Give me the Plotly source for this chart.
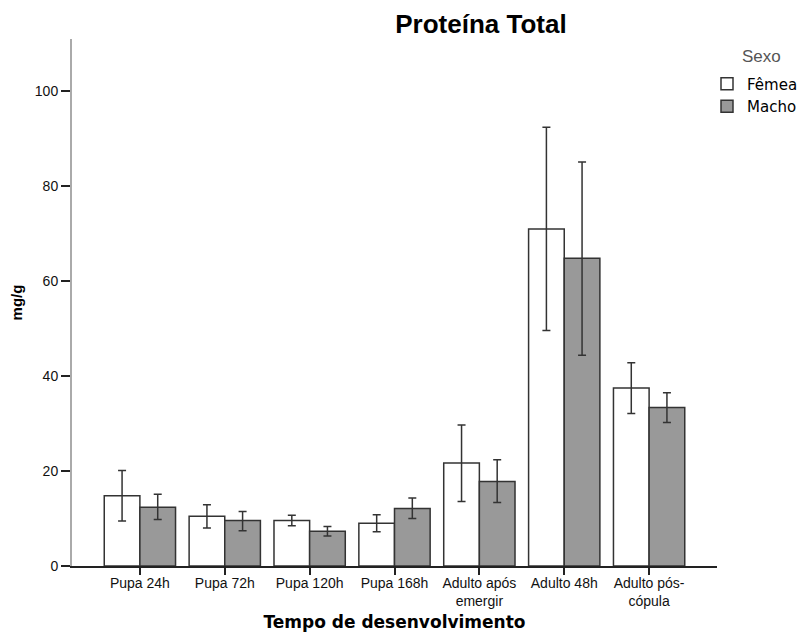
import plotly.graph_objects as go

categories = ["Pupa 24h", "Pupa 72h", "Pupa 120h", "Pupa 168h",
              "Adulto após<br>emergir", "Adulto 48h", "Adulto pós-<br>cópula"]
femea = [14.8, 10.5, 9.6, 9.0, 21.7, 71.0, 37.5]
femea_hi = [20.1, 12.9, 10.7, 10.8, 29.7, 92.4, 42.8]
femea_lo = [9.5, 8.0, 8.5, 7.2, 13.6, 49.6, 32.1]
macho = [12.4, 9.6, 7.3, 12.1, 17.8, 64.8, 33.4]
macho_hi = [15.1, 11.5, 8.3, 14.3, 22.4, 85.1, 36.5]
macho_lo = [9.8, 7.4, 6.3, 10.0, 13.4, 44.4, 30.2]

x_idx = list(range(len(categories)))
font_family = "Liberation Sans, Arial, sans-serif"

def err(vals, hi, lo):
    return dict(type="data", symmetric=False,
                array=[h - v for v, h in zip(vals, hi)],
                arrayminus=[v - l for v, l in zip(vals, lo)],
                color="#333333", thickness=1.5, width=4)

fig = go.Figure()
fig.add_trace(go.Bar(name="Fêmea", x=x_idx, y=femea,
                     marker=dict(color="white", line=dict(color="#333333", width=1.5)),
                     error_y=err(femea, femea_hi, femea_lo)))
fig.add_trace(go.Bar(name="Macho", x=x_idx, y=macho,
                     marker=dict(color="#999999", line=dict(color="#333333", width=1.5)),
                     error_y=err(macho, macho_hi, macho_lo)))

fig.update_layout(
    width=798, height=624,
    barmode="group", bargap=0.16, bargroupgap=0,
    plot_bgcolor="white", paper_bgcolor="white",
    margin=dict(l=64, r=89, t=31, b=66, autoexpand=False),
    font=dict(family=font_family, color="#000000", size=13),
    title=dict(text="<b>Proteína Total</b>", x=0.5927, xanchor="center",
               y=0.9744, yanchor="middle",
               font=dict(family=font_family, size=26, color="#000000")),
    legend=dict(x=0.9845, xanchor="left", y=0.946, yanchor="top",
                itemwidth=30,
                font=dict(family="DejaVu Sans, sans-serif", size=15, color="#000000"),
                bgcolor="rgba(0,0,0,0)", tracegroupgap=0),
    showlegend=True,
    annotations=[dict(text="Sexo", xref="paper", yref="paper",
                      x=1.0357, y=0.966, xanchor="left", yanchor="middle",
                      showarrow=False,
                      font=dict(family=font_family, size=17, color="#555555"))],
)
fig.update_xaxes(
    tickmode="array", tickvals=x_idx, ticktext=categories,
    range=[-0.8, 6.8], showline=True, linecolor="#222222", linewidth=1.5,
    ticks="outside", ticklen=7, tickcolor="#222222", tickwidth=1.5,
    tickfont=dict(size=14, color="#111111"), ticklabelstandoff=-4,
    showgrid=False, zeroline=False, automargin=False,
    title=dict(text="<b>Tempo de desenvolvimento</b>",
               font=dict(family="DejaVu Sans, sans-serif", size=17, color="#000000"),
               standoff=12),
)
fig.update_yaxes(
    range=[0, 111], tickvals=[0, 20, 40, 60, 80, 100],
    showline=True, linecolor="#aaaaaa", linewidth=2,
    ticks="outside", ticklen=9, tickcolor="#222222", tickwidth=1.5,
    tickfont=dict(size=14, color="#111111"),
    showgrid=False, zeroline=False, automargin=False,
    title=dict(text="<b>mg/g</b>", font=dict(size=15, color="#000000"), standoff=22),
)

fig.write_html("out.html")
